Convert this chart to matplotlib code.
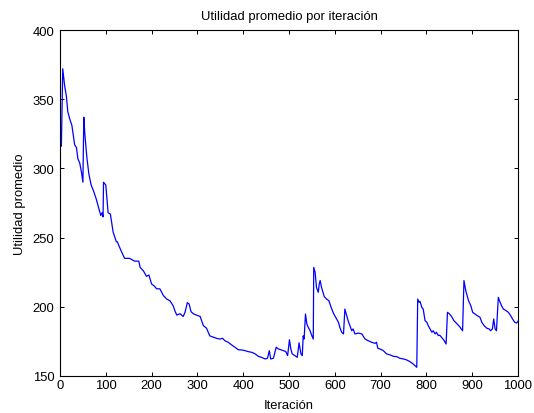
import matplotlib
matplotlib.use("Agg")
import matplotlib.pyplot as plt

plt.rcParams['font.family'] = ['Liberation Sans', 'DejaVu Sans']

title = "Utilidad promedio por iteración"
xlabel = "Iteración"
ylabel = "Utilidad promedio"

iteracion = [0, 3, 6, 10, 14, 17, 21, 26, 32, 36, 39, 43, 47, 50, 52, 54, 57, 59, 63, 68,
             74, 79, 84, 89, 92, 94, 95, 100, 105, 110, 116, 123, 125, 134, 141, 152, 163, 167, 172, 175,
             182, 189, 194, 200, 206, 211, 218, 226, 233, 240, 247, 251, 255, 262, 269, 273, 278, 282, 286, 291,
             298, 306, 313, 320, 327, 335, 342, 349, 355, 360, 367, 375, 382, 389, 397, 404, 411, 419, 426, 433,
             440, 448, 453, 457, 460, 466, 472, 477, 482, 488, 493, 497, 501, 504, 507, 513, 518, 522, 526, 529,
             531, 533, 536, 539, 542, 546, 550, 553, 554, 557, 560, 564, 566, 568, 571, 577, 582, 587, 592, 597,
             602, 608, 611, 615, 619, 622, 626, 629, 633, 637, 640, 644, 651, 659, 666, 673, 680, 688, 691, 694,
             699, 706, 713, 721, 728, 735, 742, 750, 757, 764, 771, 779, 781, 784, 786, 790, 793, 797, 801, 804,
             808, 812, 815, 819, 822, 826, 829, 833, 839, 843, 846, 850, 855, 860, 866, 873, 879, 882, 886, 892,
             897, 901, 906, 911, 917, 921, 926, 932, 937, 940, 944, 947, 950, 953, 957, 961, 964, 968, 974, 979,
             984, 988, 993, 997, 1000]

utilidad = [332, 316, 372, 360, 352, 341, 336, 331, 317, 315, 307, 304, 297, 290, 337, 326, 314, 307, 296, 288,
            283, 278, 272, 266, 268, 265, 290, 288, 268, 267, 254, 247, 247, 240, 235, 235, 233, 233, 233, 228.5,
            226, 222, 223, 216.5, 215, 213, 213, 208, 205.6, 204.4, 200.8, 197, 194, 195, 193, 196, 203, 202, 196.5, 195,
            194, 193, 186.4, 184.5, 179, 178, 177.2, 176.7, 177.2, 175.5, 174.4, 172.4, 170.8, 169, 168.8, 168.3, 167.6, 167.1, 166, 164.2,
            163.5, 162.3, 162.8, 168.3, 162.3, 162.8, 170.8, 169.5, 169, 168.3, 167.6, 164.7, 176.2, 169.5, 166, 164.7, 163.5, 174, 166, 164.7,
            179, 176.7, 194.8, 187.6, 185.2, 182.7, 179, 176.7, 228.5, 225, 214, 210.5, 216.5, 219, 214, 207.3, 205.6, 204.4, 199.6, 195.3,
            192.4, 188.8, 185.2, 181.6, 180.4, 198.4, 193.6, 190, 186.4, 182.7, 184, 180.4, 181, 180.4, 176.7, 175.5, 174.4, 173.6, 174.4, 170,
            169.5, 168.3, 166, 165.2, 164.2, 164, 162.8, 162.3, 161.6, 160.4, 158.7, 156.3, 205.6, 203.2, 204, 199.6, 198.4, 190, 188.8, 186.4,
            184, 181.6, 182.7, 180.4, 181.6, 179.2, 179.5, 178, 175.5, 173.1, 196, 195, 193, 190, 188, 185.5, 182.7, 219, 211.6, 204.4,
            200.8, 196, 194.8, 193.6, 192.4, 188.8, 186.4, 184.5, 184, 182.7, 184, 191.2, 184, 182.7, 206.8, 203.2, 200.8, 198.4, 197.2, 196,
            193.6, 191.2, 188.8, 188.3, 189.5]

xticks = [0, 100, 200, 300, 400, 500, 600, 700, 800, 900, 1000]
yticks = [150, 200, 250, 300, 350, 400]

fs = 9.4
fig = plt.figure(figsize=(5.34, 4.14), dpi=100)
ax = fig.add_axes([60 / 534, 1 - 377 / 414, 458 / 534, 346 / 414])
ax.plot(iteracion, utilidad, color='#0000FF', linewidth=0.9)
ax.set_xlim(0, 1000)
ax.set_ylim(150, 400)
ax.set_xticks(xticks)
ax.set_yticks(yticks)
ax.tick_params(direction='in', length=3, width=0.7, top=True, right=True, labelsize=fs)
ax.tick_params(axis='x', pad=2)
ax.tick_params(axis='y', pad=4)
for s in ax.spines.values():
    s.set_linewidth(0.8)
ax.set_title(title, fontsize=fs, pad=8)
ax.set_xlabel(xlabel, fontsize=fs, labelpad=6)
ax.set_ylabel(ylabel, fontsize=fs, labelpad=5)
fig.savefig("out.png", dpi=100)
